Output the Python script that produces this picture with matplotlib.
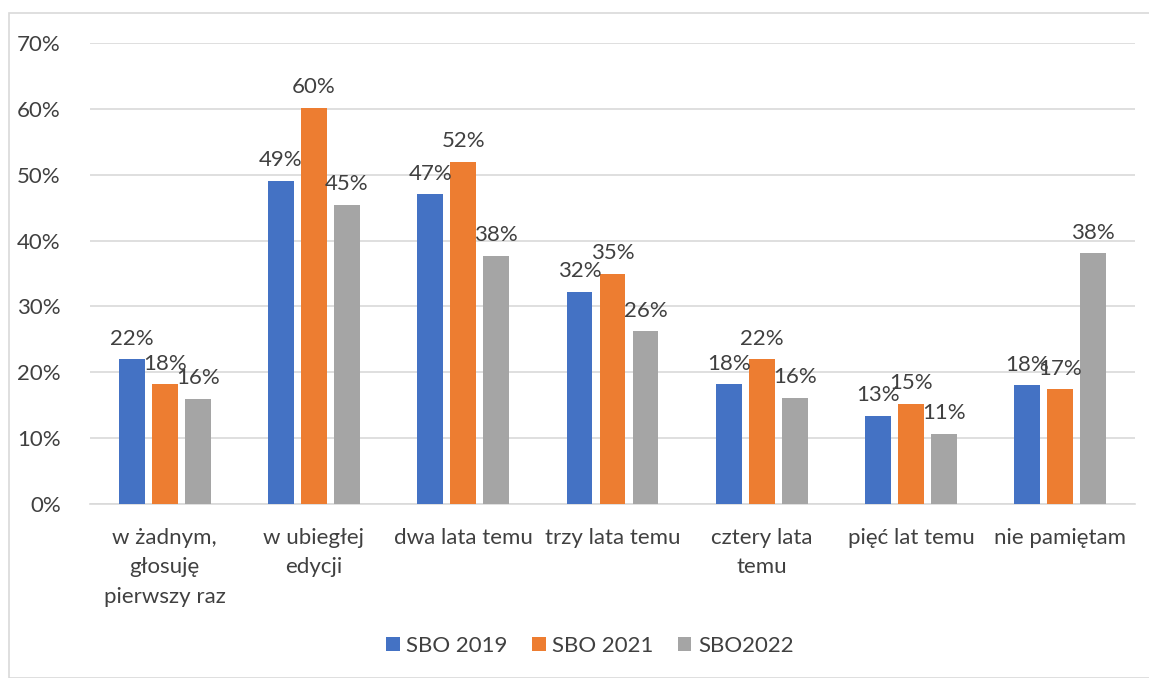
import matplotlib
matplotlib.use("Agg")
import matplotlib.pyplot as plt
from matplotlib.patches import Rectangle
import numpy as np

categories = ["w żadnym,\ngłosuję\npierwszy raz", "w ubiegłej\nedycji", "dwa lata temu",
              "trzy lata temu", "cztery lata\ntemu", "pięć lat temu", "nie pamiętam"]
series_names = ["SBO 2019", "SBO 2021", "SBO2022"]
sbo2019 = [22.0, 49.1, 47.0, 32.2, 18.2, 13.4, 18.0]
sbo2021 = [18.2, 60.2, 52.0, 35.0, 22.0, 15.2, 17.4]
sbo2022 = [16.0, 45.4, 37.7, 26.2, 16.1, 10.7, 38.1]
colors = ["#4472C4", "#ED7D31", "#A5A5A5"]

plt.rcParams['font.family'] = ['Lato', 'DejaVu Sans']
txt = "#404040"
fs = 16

fig = plt.figure(figsize=(11.49, 6.78), dpi=100)
W, H = 1149, 678
ax = fig.add_axes([90 / W, 1 - 504 / H, (1135 - 90) / W, (504 - 43) / H])

x = np.arange(len(categories))
bw = 0.174
step = 0.221
data = [sbo2019, sbo2021, sbo2022]
for i, (vals, c, name) in enumerate(zip(data, colors, series_names)):
    pos = x + (i - 1) * step
    ax.bar(pos, vals, width=bw, color=c, label=name, zorder=3)
    for p, v in zip(pos, vals):
        ax.text(p, v + 1.6, f"{round(v):.0f}%", ha='center', va='bottom',
                fontsize=fs, color=txt, zorder=4)

ax.set_xlim(-0.5, len(categories) - 0.5)
ax.set_ylim(0, 70)
ax.set_yticks(np.arange(0, 71, 10))
ax.set_yticklabels([f"{t}%" for t in range(0, 71, 10)], fontsize=fs, color=txt)
ax.yaxis.grid(True, color="#d9d9d9", linewidth=1.2, zorder=0)
ax.set_xticks(x)
ax.set_xticklabels(categories, fontsize=fs, color=txt, linespacing=1.6, va='top')
ax.tick_params(axis='both', length=0)
ax.tick_params(axis='y', pad=21)
ax.tick_params(axis='x', pad=17)
for s in ['top', 'right', 'left']:
    ax.spines[s].set_visible(False)
ax.spines['bottom'].set_color("#d9d9d9")
ax.spines['bottom'].set_linewidth(1.2)

fig.legend(loc='center', bbox_to_anchor=(590 / W, 1 - 646 / H), ncol=3, frameon=False,
           fontsize=fs, labelcolor=txt, handlelength=0.6, handleheight=0.6,
           handletextpad=0.3, columnspacing=1.1)

fig.patches.append(Rectangle((9 / W, 0), 1.0, 1 - 13 / H, transform=fig.transFigure,
                             fill=False, edgecolor="#d9d9d9", linewidth=1.2))

fig.savefig("out.png", dpi=100)
